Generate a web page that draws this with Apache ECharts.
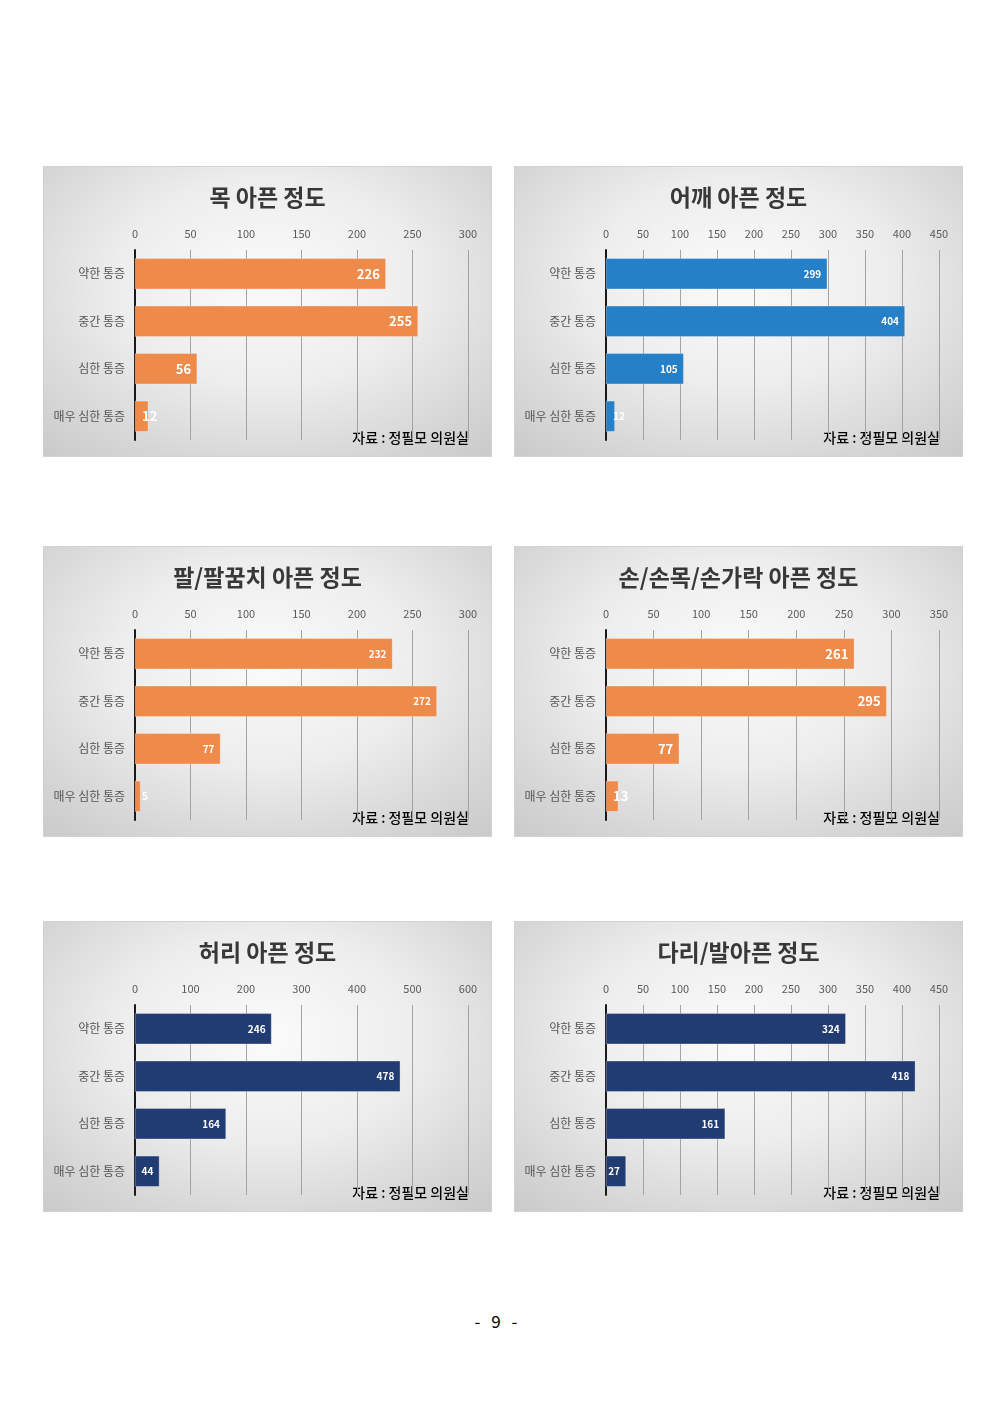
<!DOCTYPE html>
<html>
<head>
<meta charset="utf-8">
<script src="https://cdn.jsdelivr.net/npm/echarts@6/dist/echarts.min.js"></script>
<style>
    body { margin: 0; width: 992px; height: 1403px; background: #ffffff; position: relative; font-family: "Noto Sans CJK KR", sans-serif; }
    .panel {
        position: absolute;
        width: 449px;
        height: 291px;
        box-sizing: border-box;
        border: 1px solid #d2d2d2;
        background: radial-gradient(ellipse 75% 80% at 50% 40%, #fbfbfb 0%, #ededed 45%, #d6d6d6 80%, #cacaca 100%);
    }
    #page { position: absolute; top: 1308px; left: 0; width: 992px; text-align: center; font-size: 17px; word-spacing: 7px; color: #000; font-family: "Noto Sans CJK KR", sans-serif; }
</style>
</head>
<body>
<div class="panel" id="c1" style="left:43px; top:166px;"></div>
<div class="panel" id="c2" style="left:514px; top:166px;"></div>
<div class="panel" id="c3" style="left:43px; top:546px;"></div>
<div class="panel" id="c4" style="left:514px; top:546px;"></div>
<div class="panel" id="c5" style="left:43px; top:921px;"></div>
<div class="panel" id="c6" style="left:514px; top:921px;"></div>
<div id="page">- 9 -</div>

<script>
/* Data */
const categories = ["약한 통증", "중간 통증", "심한 통증", "매우 심한 통증"];

const neckValues = [226, 255, 56, 12];
const shoulderValues = [299, 404, 105, 12];
const armValues = [232, 272, 77, 5];
const handValues = [261, 295, 77, 13];
const backValues = [246, 478, 164, 44];
const legValues = [324, 418, 161, 27];

const chartTitles = ["목 아픈 정도", "어깨 아픈 정도", "팔/팔꿈치 아픈 정도", "손/손목/손가락 아픈 정도", "허리 아픈 정도", "다리/발아픈 정도"];
const axisMax = [300, 450, 300, 350, 600, 450];
const axisStep = [50, 50, 50, 50, 100, 50];
const sourceNote = "자료 : 정필모 의원실";

const ORANGE = "#ee8a4a";
const BLUE = "#2580c8";
const NAVY = "#213b73";

const FONT = "Noto Sans CJK KR";

function makeOption(title, values, max, step, color, labelSize) {
    return {
        textStyle: { fontFamily: FONT },
        title: {
            text: title,
            left: "center",
            top: 19,
            padding: 0,
            textStyle: { fontFamily: FONT, fontSize: 23, fontWeight: "bold", color: "#383838" },
        },
        grid: { left: 91, right: 23, top: 83, bottom: 16, containLabel: false },
        xAxis: {
            type: "value",
            position: "top",
            min: 0,
            max: max,
            interval: step,
            axisLine: { show: false },
            axisTick: { show: false },
            axisLabel: { color: "#595959", fontSize: 11, margin: 11 },
            splitLine: { show: true, lineStyle: { color: "#a3a3a3", width: 1 } },
        },
        yAxis: {
            type: "category",
            inverse: true,
            data: categories,
            axisLine: { show: true, lineStyle: { color: "#1a1a1a", width: 2 } },
            axisTick: { show: false },
            axisLabel: { color: "#555555", fontSize: 12, margin: 10 },
        },
        graphic: [{
            type: "text",
            right: 22,
            bottom: 11,
            style: { text: sourceNote, fontFamily: FONT, fontSize: 14, fontWeight: 500, fill: "#000000" },
        }],
        series: [{
            type: "bar",
            barWidth: "65%",
            data: values.map((v) => ({
                value: v,
                label: v / max < 0.06 ? { position: "insideLeft", distance: 7 } : {},
            })),
            itemStyle: { color: color, borderColor: "rgba(255,255,255,0.6)", borderWidth: 0.5 },
            label: {
                show: true,
                position: "insideRight",
                distance: 6,
                color: "#ffffff",
                fontWeight: "bold",
                fontSize: labelSize,
                fontFamily: FONT,
            },
            animation: false,
        }],
        animation: false,
    };
}

const setup = [
    ["c1", neckValues, ORANGE, 13],
    ["c2", shoulderValues, BLUE, 10],
    ["c3", armValues, ORANGE, 10],
    ["c4", handValues, ORANGE, 13],
    ["c5", backValues, NAVY, 10],
    ["c6", legValues, NAVY, 10],
];

setup.forEach((s, i) => {
    const chart = echarts.init(document.getElementById(s[0]), null, { renderer: "canvas" });
    chart.setOption(makeOption(chartTitles[i], s[1], axisMax[i], axisStep[i], s[2], s[3]));
});
</script>
</body>
</html>
